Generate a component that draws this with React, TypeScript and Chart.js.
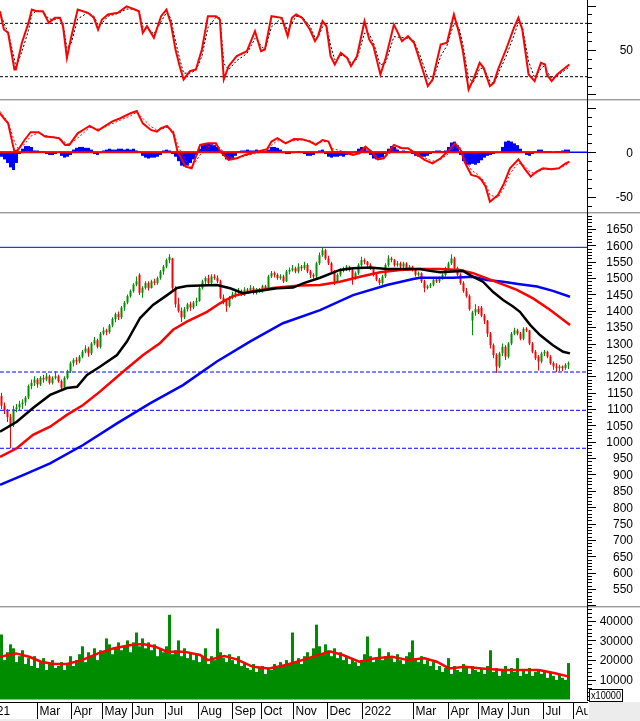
import React, { useEffect, useRef } from 'react';
import { Chart, registerables } from 'chart.js';

Chart.register(...registerables);

const FONT = '"Liberation Sans", Arial, Helvetica, sans-serif';
const X_MIN = -0.5;
const X_MAX = 195.5;
const GREEN = '#009000';
const VOL_GREEN = '#008c00';
const RED = '#ff0000';
const BLUE = '#0000ff';

// ---------- x-axis (month separators, in bar-slot units) ----------
const monthPos = [-6.7, 11.9, 23.2, 33.5, 43.6, 54.5, 65.6, 76.7, 86.5, 97.3, 108.5, 120.1, 137.1, 148.9, 158.9, 168.9, 180.4, 190.6];
const monthLabels = ['2021', 'Mar', 'Apr', 'May', 'Jun', 'Jul', 'Aug', 'Sep', 'Oct', 'Nov', 'Dec', '2022', 'Mar', 'Apr', 'May', 'Jun', 'Jul', 'Aug'];

// ---------- price candles ----------
const open = [
  1140, 1110, 1095, 1075, 1050, 1100, 1105, 1115, 1120, 1135,
  1170, 1180, 1190, 1175, 1195, 1190, 1200, 1180, 1195, 1200,
  1185, 1165, 1195, 1215, 1240, 1250, 1245, 1260, 1275, 1285,
  1270, 1300, 1310, 1290, 1330, 1340, 1335, 1355, 1375, 1390,
  1380, 1410, 1425, 1445, 1460, 1480, 1510, 1455, 1470, 1485,
  1470, 1490, 1485, 1500, 1520, 1535, 1555, 1560, 1470, 1420,
  1400, 1380, 1405, 1420, 1410, 1425, 1430, 1470, 1490, 1500,
  1485, 1505, 1500, 1490, 1440, 1430, 1415, 1440, 1450, 1455,
  1460, 1450, 1465, 1460, 1470, 1455, 1465, 1460, 1475, 1470,
  1505, 1515, 1510, 1500, 1505, 1490, 1520, 1525, 1530, 1520,
  1535, 1530, 1540, 1520, 1510, 1505, 1545, 1570, 1585, 1560,
  1545, 1520, 1490, 1510, 1525, 1530, 1535, 1525, 1500, 1515,
  1540, 1555, 1550, 1540, 1530, 1510, 1495, 1485, 1505, 1540,
  1560, 1555, 1540, 1545, 1535, 1545, 1530, 1535, 1525, 1510,
  1515, 1490, 1470, 1475, 1480, 1495, 1490, 1500, 1510, 1530,
  1545, 1560, 1530, 1510, 1485, 1460, 1445, 1370, 1395, 1405,
  1410, 1385, 1370, 1330, 1295, 1265, 1230, 1270, 1290, 1260,
  1300, 1330, 1340, 1330, 1315, 1345, 1340, 1300, 1275, 1260,
  1245, 1270, 1275, 1260, 1240, 1230, 1225, 1230, 1225, 1235,
];
const high = [
  1150, 1120, 1100, 1085, 1110, 1115, 1125, 1130, 1140, 1175,
  1190, 1200, 1195, 1200, 1205, 1210, 1205, 1200, 1215, 1205,
  1190, 1200, 1220, 1245, 1255, 1258, 1265, 1280, 1295, 1290,
  1305, 1320, 1315, 1335, 1350, 1345, 1360, 1380, 1395, 1398,
  1415, 1430, 1450, 1465, 1485, 1505, 1515, 1475, 1490, 1490,
  1495, 1498, 1505, 1525, 1540, 1560, 1573, 1562, 1475, 1440,
  1410, 1412, 1425, 1428, 1430, 1440, 1475, 1495, 1505, 1510,
  1512, 1512, 1508, 1495, 1450, 1435, 1445, 1458, 1462, 1470,
  1465, 1472, 1470, 1478, 1475, 1470, 1470, 1480, 1480, 1510,
  1522, 1520, 1515, 1512, 1510, 1525, 1532, 1540, 1535, 1545,
  1540, 1550, 1545, 1525, 1515, 1550, 1578, 1594, 1590, 1568,
  1550, 1525, 1515, 1530, 1535, 1540, 1538, 1528, 1520, 1545,
  1565, 1560, 1552, 1545, 1532, 1515, 1500, 1510, 1545, 1570,
  1565, 1558, 1552, 1550, 1550, 1548, 1540, 1538, 1528, 1520,
  1518, 1495, 1480, 1485, 1500, 1498, 1505, 1515, 1535, 1550,
  1573, 1565, 1535, 1515, 1490, 1470, 1450, 1400, 1420, 1415,
  1415, 1390, 1372, 1335, 1300, 1270, 1275, 1300, 1295, 1305,
  1335, 1348, 1345, 1335, 1350, 1350, 1342, 1305, 1280, 1265,
  1275, 1280, 1278, 1265, 1245, 1240, 1235, 1233, 1240, 1245,
];
const low = [
  1100, 1085, 1060, 980, 1045, 1090, 1095, 1100, 1110, 1130,
  1160, 1170, 1165, 1170, 1180, 1185, 1175, 1175, 1190, 1180,
  1160, 1160, 1190, 1210, 1230, 1235, 1240, 1255, 1270, 1260,
  1265, 1295, 1285, 1285, 1325, 1325, 1330, 1350, 1365, 1372,
  1375, 1400, 1420, 1440, 1455, 1475, 1448, 1440, 1465, 1462,
  1468, 1478, 1480, 1495, 1510, 1530, 1545, 1460, 1410, 1395,
  1366, 1375, 1398, 1400, 1405, 1415, 1428, 1465, 1480, 1480,
  1480, 1495, 1485, 1435, 1420, 1397, 1410, 1435, 1440, 1448,
  1445, 1445, 1452, 1455, 1450, 1450, 1455, 1455, 1462, 1468,
  1500, 1502, 1495, 1495, 1485, 1488, 1512, 1520, 1515, 1515,
  1522, 1525, 1515, 1500, 1498, 1500, 1540, 1565, 1555, 1540,
  1515, 1479, 1485, 1505, 1518, 1522, 1520, 1480, 1495, 1510,
  1535, 1542, 1535, 1525, 1505, 1490, 1478, 1480, 1500, 1535,
  1548, 1535, 1535, 1530, 1530, 1525, 1525, 1520, 1505, 1505,
  1485, 1457, 1465, 1470, 1475, 1485, 1485, 1495, 1505, 1525,
  1540, 1525, 1505, 1480, 1455, 1440, 1400, 1325, 1385, 1390,
  1380, 1360, 1320, 1285, 1255, 1210, 1225, 1262, 1250, 1255,
  1295, 1325, 1325, 1310, 1310, 1335, 1295, 1270, 1250, 1218,
  1240, 1262, 1255, 1235, 1220, 1212, 1215, 1215, 1220, 1222,
];
const close = [
  1110, 1095, 1075, 1050, 1100, 1105, 1115, 1120, 1135, 1170,
  1180, 1190, 1175, 1195, 1190, 1200, 1180, 1195, 1200, 1185,
  1165, 1195, 1215, 1240, 1250, 1245, 1260, 1275, 1285, 1270,
  1300, 1310, 1290, 1330, 1340, 1335, 1355, 1375, 1390, 1380,
  1410, 1425, 1445, 1460, 1480, 1490, 1455, 1470, 1485, 1470,
  1490, 1485, 1500, 1520, 1535, 1555, 1565, 1470, 1420, 1400,
  1380, 1405, 1420, 1410, 1425, 1430, 1470, 1490, 1500, 1485,
  1505, 1500, 1490, 1440, 1430, 1415, 1440, 1450, 1455, 1460,
  1450, 1465, 1460, 1470, 1455, 1465, 1460, 1475, 1470, 1505,
  1515, 1510, 1500, 1505, 1490, 1520, 1525, 1530, 1520, 1535,
  1530, 1540, 1520, 1510, 1505, 1545, 1570, 1585, 1560, 1545,
  1520, 1490, 1510, 1525, 1530, 1535, 1525, 1500, 1515, 1540,
  1555, 1550, 1540, 1530, 1510, 1495, 1485, 1505, 1540, 1560,
  1555, 1540, 1545, 1535, 1545, 1530, 1535, 1525, 1510, 1515,
  1490, 1470, 1475, 1480, 1495, 1490, 1500, 1510, 1530, 1545,
  1560, 1530, 1510, 1485, 1460, 1445, 1405, 1395, 1405, 1395,
  1385, 1370, 1330, 1295, 1265, 1230, 1270, 1290, 1260, 1300,
  1330, 1340, 1330, 1315, 1345, 1340, 1300, 1275, 1255, 1245,
  1270, 1275, 1260, 1240, 1230, 1225, 1230, 1225, 1235, 1240,
];

// moving averages (slot position, value)
const ma20T = [-0.5, 5.1, 10.5, 16.2, 21.8, 25.2, 28.5, 32.8, 38.5, 41.8, 46.2, 50.5, 55.2, 58.5, 61.8, 66.2, 71.8, 76.2, 80.5, 86.2, 91.8, 97.2, 100.5, 106.2, 112.8, 117.2, 122.8, 128.5, 135.2, 139.5, 142.8, 146.2, 150.5, 153.8, 157.2, 160.5, 163.8, 167.2, 170.5, 172.8, 176.2, 179.5, 183.8, 187.2, 189.5];
const ma20 = [1031, 1061, 1103, 1143, 1164, 1168, 1204, 1229, 1265, 1306, 1378, 1418, 1448, 1470, 1476, 1477, 1479, 1469, 1454, 1461, 1469, 1471, 1484, 1501, 1525, 1530, 1532, 1528, 1528, 1528, 1522, 1518, 1520, 1522, 1504, 1489, 1458, 1433, 1413, 1397, 1357, 1326, 1295, 1275, 1270];
const ma50T = [-0.5, 5.1, 10.5, 16.2, 21.8, 27.2, 32.8, 40.5, 47.2, 52.8, 57.2, 61.8, 68.5, 72.8, 77.2, 83.8, 90.5, 99.5, 106.2, 112.8, 119.5, 126.2, 132.8, 139.5, 146.2, 152.8, 157.2, 161.8, 166.2, 171.8, 177.2, 182.8, 189.5];
const ma50 = [954, 980, 1021, 1046, 1082, 1112, 1153, 1214, 1265, 1301, 1342, 1367, 1397, 1423, 1445, 1460, 1470, 1477, 1479, 1489, 1504, 1518, 1525, 1528, 1528, 1525, 1515, 1499, 1484, 1464, 1438, 1403, 1357];
const ma200T = [-0.5, 7.2, 16.2, 27.2, 38.5, 49.5, 60.5, 71.8, 82.8, 93.8, 106.2, 117.2, 128.5, 137.2, 139.5, 150.5, 157.2, 161.8, 167.2, 172.8, 178.5, 183.8, 189.5];
const ma200 = [868, 898, 934, 990, 1056, 1117, 1173, 1245, 1306, 1362, 1402, 1448, 1479, 1497, 1501, 1501, 1504, 1494, 1489, 1481, 1474, 1461, 1443];

const resistance = 1594;
const supports = [1213, 1096, 980];
const priceLabels = [550, 600, 650, 700, 750, 800, 850, 900, 950, 1000, 1050, 1100, 1150, 1200, 1250, 1300, 1350, 1400, 1450, 1500, 1550, 1600, 1650];

// ---------- oscillator (top panel) ----------
const rsiT = [
  -0.5, 0.8, 2.2, 4.3, 4.8, 6.8, 9, 10.1, 11.7, 13.8,
  15.8, 17.8, 19.5, 20.5, 21.8, 23.3, 25.4, 28.8, 30.8, 32.2,
  33.5, 35.5, 38.8, 41.7, 44.4, 45.8, 47.1, 48.5, 50.8, 53.2,
  55, 56.4, 58, 59.4, 60.7, 62.8, 64.8, 66.8, 68.8, 71.5,
  72.8, 74.1, 75.7, 78.4, 81.8, 84.5, 86.5, 87.8, 90, 93.4,
  95.4, 96.8, 98.2, 100.2, 102.8, 104.5, 105.5, 107, 108.3, 109.7,
  111.1, 113.1, 115.2, 116.5, 118.5, 121, 122.6, 124, 126.3, 128.1,
  130.8, 133.5, 135.5, 137.5, 139.5, 142.1, 143.7, 146.4, 148.5, 150.8,
  152.5, 153.8, 155.7, 157.3, 159.4, 160.7, 162.8, 164.1, 165.5, 168.2,
  170.8, 172.3, 173.6, 175.7, 177.7, 179.8, 181.2, 181.8, 183.4, 185.2,
  187.2, 189.3,
];
const rsiVal = [
  93.6, 73, 69.3, 28.1, 28.1, 58.1, 80.5, 95.5, 93.6, 93.6,
  80.5, 86.2, 86.2, 76.8, 41.2, 65.5, 95.5, 91.8, 86.2, 73,
  84.3, 89.9, 91.8, 99, 95.5, 93.6, 69.3, 76.8, 63.7, 88,
  95.5, 80.5, 50.6, 31.8, 16.9, 26.2, 28.1, 50.6, 88, 88,
  84.3, 16.9, 31.8, 43.1, 48.7, 71.2, 48.7, 50.6, 88, 86.2,
  65.5, 86.2, 89.9, 86.2, 73, 59.9, 65.5, 82.4, 76.8, 43.1,
  33.7, 46.8, 41.2, 31.8, 43.1, 82.4, 61.8, 54.3, 22.5, 41.2,
  78.6, 59.9, 65.5, 58.1, 37.5, 9.4, 16.9, 56.2, 58.1, 89.9,
  69.3, 48.7, 5.6, 16.9, 35.6, 30, 9.4, 13.1, 28.1, 50.6,
  74.9, 86.2, 73, 22.5, 15, 35.6, 33.7, 22.5, 15, 22.5,
  28.1, 33.7,
];
const rsiSig = [
  92, 80, 70, 40, 30, 48, 72, 90, 94, 93,
  85, 84, 86, 80, 52, 58, 85, 92, 88, 78,
  80, 88, 91, 96, 96, 94, 76, 75, 68, 82,
  92, 86, 60, 40, 24, 24, 27, 43, 75, 87,
  86, 35, 28, 38, 46, 63, 55, 50, 76, 86,
  72, 80, 88, 87, 77, 64, 64, 76, 78, 55,
  39, 44, 42, 35, 40, 69, 68, 58, 33, 36,
  65, 64, 63, 60, 44, 19, 15, 43, 55, 80,
  75, 56, 18, 14, 29, 30, 15, 12, 23, 43,
  66, 81, 76, 37, 19, 29, 33, 26, 18, 21,
  26, 31,
];
const rsiLevels = [80, 20];
const rsiLabels = [50];

// ---------- MACD panel ----------
const macdT = [
  -0.5, 0.8, 2.2, 4.3, 5.5, 7.7, 9.7, 12.4, 14.5, 17.2,
  19.2, 21.2, 22.6, 25.4, 28.1, 29.4, 32.2, 34.2, 36.8, 39.6,
  43, 45.1, 47.1, 49.8, 51.8, 53.2, 55.2, 57.3, 58.7, 61.4,
  63.4, 66.2, 68.8, 71.5, 73, 75.7, 78.4, 81.2, 85.2, 88.5,
  90, 92, 94.7, 97.5, 100.2, 102.8, 104.8, 107, 109, 110.4,
  113.8, 117.2, 119.2, 121.3, 123.3, 125.4, 127.4, 130.8, 133.5, 135.5,
  137.6, 141, 143.7, 146.4, 149.2, 151.2, 153, 154.6, 156.6, 158.7,
  160, 161.4, 162.8, 165.5, 167.5, 169.5, 172.3, 174.3, 176.4, 178.4,
  180.5, 183.2, 185.8, 187.8, 189.3,
];
const macdVal = [
  43.8, 38, 32.5, 0.7, 2.6, 13.8, 22.5, 22.5, 17.6, 16.9,
  15.8, 8.3, 8.3, 21.3, 27, 29.6, 24.4, 28.9, 34.5, 38.2,
  43.8, 46.4, 32.5, 25.1, 23.2, 27, 29.6, 21.3, 0.7, -16.1,
  -18, 8.3, 10.1, 10.1, 0.7, -8.6, -6.7, -3, 0.7, 3.4,
  12, 15.8, 10.1, 14.9, 14.6, 12, 8.3, 13.8, 12, 0.7,
  0, -3, -1.1, 6.4, 0.7, -7.9, -6.7, 8.3, 4.5, 4.5,
  -0.4, -8.6, -12.4, -6.7, 2.6, 10.1, 2.6, -12.4, -25.5, -27.3,
  -31.1, -38.6, -55.5, -48, -34.9, -18, -7.9, -18, -27.3, -21.7,
  -18, -19.1, -18, -13.1, -10.5,
];
const macdSig = [
  46, 40, 34, 12, 4, 9, 18, 22, 19, 17,
  16, 11, 9, 16, 24, 28, 26, 28, 32, 36,
  41, 45, 38, 29, 25, 26, 28, 24, 8, -10,
  -17, -3, 6, 9, 4, -5, -7, -4, -1, 2,
  8, 13, 11, 13, 14, 13, 10, 12, 12, 4,
  1, -2, -2, 3, 2, -5, -7, 3, 5, 4,
  1, -6, -10, -8, -1, 6, 5, -7, -20, -25,
  -29, -35, -48, -51, -40, -24, -12, -15, -23, -23,
  -19, -19, -18, -15, -12,
];
const macdHist = [
  -5, -8, -12, -17, -20, -12, -2,
  4, 7, 7, 6,
  2, 2, 1, 1,
  -2, -3, -3, -2,
  0,
  -4, -6, -5, -3,
  3, 5, 6, 6, 5, 5, 3,
  -2, -3, -1,
  2, 3, 4, 3, 3, 4, 4, 3, 4, 3, 4, 2, 1,
  -4, -6, -7, -6, -6, -5, -3,
  2, 3, 2,
  -2, -5, -10, -15, -16, -15, -12, -8, -3,
  4, 8, 10, 10, 9, 8, 6, 2,
  -4, -8, -8, -7, -4,
  1, 2, 2, 3, 2, 2, 3, 2, 1, 1,
  3, 6, 6, 5, 3,
  -1, -2, -2, -1,
  0, 1, 0,
  -2, -4, -4, -3, -1,
  2, 3,
  -2, -5, -6, -5, -5, -4, -5, -3, -2,
  -1, 1,
  4, 6, 5, 2,
  -3, -7, -8, -8, -6, -2,
  4, 7, 6, 3,
  1, 2, 1, 0,
  -2, -4, -5, -5, -5, -4, -2,
  1, 2, 2, 1, 2,
  6, 11, 12, 8,
  -3, -10, -14, -14, -13, -14, -12, -9, -6, -4,
  -3, -2, -1, 0,
  6, 12, 13, 12, 10, 8, 4,
  0, -3, -4,
  -2, 1, 3,
  3, 1, 1, 1, 0, 1, 1,
  2, 3, 3,
];
const macdLabels = [0, -50];

// ---------- volume (thousands, axis in x10000) ----------
const volume = [
  33, 20, 24, 28, 26, 19, 22, 25, 18, 21,
  17, 22, 16, 19, 21, 15, 18, 20, 16, 17,
  19, 15, 18, 22, 17, 20, 23, 27, 19, 24,
  22, 26, 20, 25, 24, 31, 28, 23, 26, 29,
  25, 27, 30, 24, 29, 34, 27, 31, 26, 29,
  25, 28, 22, 26, 24, 27, 43, 23, 25, 30,
  22, 26, 21, 24, 20, 23, 19, 22, 26, 18,
  22, 20, 36, 24, 21, 19, 23, 20, 18, 22,
  17, 19, 16, 15, 18, 14, 16, 17, 13, 16,
  15, 18, 16, 19, 17, 20, 18, 34, 19, 21,
  18, 22, 24, 21, 26, 38, 27, 23, 28, 25,
  22, 26, 21, 24, 20, 22, 18, 21, 19, 17,
  20, 23, 32, 22, 19, 21, 26, 20, 22, 24,
  21, 19, 23, 20, 18, 22, 24, 30, 21, 19,
  22, 18, 20, 17, 19, 15, 17, 14, 16, 21,
  13, 17, 15, 14, 18, 16, 13, 17, 15, 14,
  16, 13, 17, 25, 14, 16, 12, 15, 17, 13,
  16, 14, 21, 12, 15, 13, 16, 12, 14, 15,
  13, 15, 11, 14, 12, 10, 13, 11, 10, 18.5,
];
const volMaT = [-0.5, 4.8, 9.2, 13.2, 17.2, 21.8, 26.8, 32.2, 37.5, 43.2, 47.2, 51.2, 55.2, 60.8, 66.2, 68.8, 74.3, 78.4, 83.8, 89.2, 94.8, 100.2, 105.5, 109.7, 113.8, 119.2, 124.7, 130.2, 135.5, 141, 145.1, 149.2, 154.5, 160, 166.8, 173.5, 179.1, 184.5, 189.2];
const volMa = [21.7, 23.4, 21.7, 19.2, 18, 18, 20, 23.4, 26, 27.7, 28.2, 26.8, 24.3, 24.3, 22.6, 20, 22.1, 20.4, 16.6, 15.8, 17.5, 20, 22.6, 24.3, 22.6, 19.2, 20.9, 21.7, 20, 20.9, 19.2, 15.8, 16.6, 15.8, 15, 15, 15, 13.3, 11.6];
const volLabels = [10, 20, 30, 40];

// ---------- helpers ----------
const series = (ts: number[], vs: number[]) => ts.map((t, i) => ({ x: t, y: vs[i] }));
const hline = (v: number, to: number = X_MAX) => [{ x: X_MIN, y: v }, { x: to, y: v }];

const lineDs = (data: any[], color: string, width: number, order: number, dash: number[] = []) => ({
  type: 'line',
  data,
  borderColor: color,
  borderWidth: width,
  borderDash: dash,
  borderCapStyle: 'butt',
  pointRadius: 0,
  fill: false,
  tension: 0,
  order,
});

function baseOptions(yMin: number, yMax: number, bottom = 0): any {
  return {
    responsive: false,
    animation: false,
    devicePixelRatio: 1,
    events: [],
    layout: { padding: { left: 0, top: 0, right: 52, bottom } },
    plugins: { legend: { display: false }, tooltip: { enabled: false } },
    scales: {
      x: { type: 'linear', min: X_MIN, max: X_MAX, display: false, offset: false },
      y: { type: 'linear', min: yMin, max: yMax, display: false },
    },
  };
}

type AxisCfg = { minor: number; major: number; labels: number[]; text?: (v: number) => string };

function rightAxis(cfg: AxisCfg) {
  return {
    id: 'rightAxis',
    afterDraw(chart: any) {
      const { ctx, chartArea } = chart;
      const y = chart.scales.y;
      const x0 = chartArea.right;
      ctx.save();
      ctx.strokeStyle = '#000';
      ctx.lineWidth = 1;
      const k0 = Math.ceil(y.min / cfg.minor);
      const k1 = Math.floor(y.max / cfg.minor);
      for (let k = k0; k <= k1; k++) {
        const v = k * cfg.minor;
        const py = Math.round(y.getPixelForValue(v)) + 0.5;
        const len = v % cfg.major === 0 ? 8 : 4;
        ctx.beginPath();
        ctx.moveTo(x0, py);
        ctx.lineTo(x0 + len, py);
        ctx.stroke();
      }
      ctx.fillStyle = '#000';
      ctx.font = `12px ${FONT}`;
      ctx.textAlign = 'right';
      ctx.textBaseline = 'middle';
      for (const v of cfg.labels) {
        ctx.fillText(cfg.text ? cfg.text(v) : String(v), chart.width - 7, y.getPixelForValue(v) + 1);
      }
      ctx.restore();
    },
  };
}

const xRow = {
  id: 'xRow',
  afterDraw(chart: any) {
    const { ctx, chartArea } = chart;
    const xs = chart.scales.x;
    const top = chartArea.bottom + 2;
    const bottom = top + 17;
    const right = chartArea.right;
    ctx.save();
    ctx.fillStyle = '#ececec';
    ctx.fillRect(0, bottom, chart.width, chart.height - bottom);
    ctx.fillRect(right + 1, top, chart.width - right - 1, bottom - top);
    // x10000 box
    ctx.fillStyle = '#fff';
    ctx.fillRect(right + 1, top - 13, 33, 12);
    ctx.strokeStyle = '#000';
    ctx.lineWidth = 1;
    ctx.strokeRect(right + 1.5, top - 12.5, 33, 12);
    ctx.fillStyle = '#000';
    ctx.font = `10px ${FONT}`;
    ctx.textAlign = 'left';
    ctx.textBaseline = 'middle';
    ctx.fillText('x10000', right + 3, top - 6, 30);
    // label row
    ctx.beginPath();
    ctx.moveTo(0, top + 0.5);
    ctx.lineTo(right, top + 0.5);
    ctx.stroke();
    ctx.beginPath();
    ctx.rect(0, top, right, bottom - top);
    ctx.clip();
    ctx.font = `12px ${FONT}`;
    monthPos.forEach((t, k) => {
      const px = Math.round(xs.getPixelForValue(t)) + 0.5;
      ctx.beginPath();
      ctx.moveTo(px, top);
      ctx.lineTo(px, bottom);
      ctx.stroke();
      ctx.fillText(monthLabels[k], px + 2, (top + bottom) / 2 + 1);
    });
    ctx.restore();
  },
};

function rsiConfig(): any {
  return {
    type: 'line',
    data: {
      datasets: [
        ...rsiLevels.map((v) => lineDs(hline(v), '#000', 1, 20, [3, 2])),
        lineDs(series(rsiT, rsiSig), '#000', 1, 2, [2, 2]),
        lineDs(series(rsiT, rsiVal), RED, 2, 1),
      ],
    },
    options: baseOptions(-5.06, 106.2),
    plugins: [rightAxis({ minor: 10, major: 50, labels: rsiLabels })],
  };
}

function macdConfig(): any {
  return {
    type: 'line',
    data: {
      datasets: [
        lineDs(hline(0), BLUE, 1.5, 30),
        {
          type: 'bar',
          data: macdHist.map((v, i) => ({ x: i, y: v })),
          backgroundColor: BLUE,
          barThickness: 3,
          inflateAmount: 0,
          borderWidth: 0,
          order: 20,
        },
        lineDs(hline(0, macdT[macdT.length - 1]), RED, 2, 3),
        lineDs(series(macdT, macdSig), RED, 1, 2, [2, 2]),
        lineDs(series(macdT, macdVal), RED, 2, 1),
      ],
    },
    options: baseOptions(-67.1, 57.6),
    plugins: [rightAxis({ minor: 10, major: 50, labels: macdLabels })],
  };
}

function priceConfig(): any {
  const idx = close.map((_, i) => i);
  const colors = idx.map((i) => (close[i] >= open[i] ? GREEN : RED));
  const candleBase = {
    type: 'bar',
    grouped: false,
    barPercentage: 1,
    categoryPercentage: 1,
    inflateAmount: 0,
    borderWidth: 0,
    backgroundColor: colors,
  };
  return {
    type: 'line',
    data: {
      datasets: [
        lineDs(hline(resistance), BLUE, 1, 30),
        ...supports.map((v) => lineDs(hline(v), BLUE, 1, 30, [4, 2])),
        { ...candleBase, data: idx.map((i) => ({ x: i, y: [low[i], high[i]] })), maxBarThickness: 1, order: 11 },
        {
          ...candleBase,
          data: idx.map((i) => ({ x: i, y: [Math.min(open[i], close[i]), Math.max(open[i], close[i])] })),
          maxBarThickness: 2,
          order: 10,
        },
        lineDs(series(ma200T, ma200), BLUE, 2.5, 3),
        lineDs(series(ma50T, ma50), RED, 2.5, 2),
        lineDs(series(ma20T, ma20), '#000', 2.5, 1),
      ],
    },
    options: baseOptions(498.1, 1695.8),
    plugins: [rightAxis({ minor: 10, major: 50, labels: priceLabels })],
  };
}

function volumeConfig(): any {
  return {
    type: 'line',
    data: {
      datasets: [
        {
          type: 'bar',
          data: volume.map((v, i) => ({ x: i, y: v })),
          backgroundColor: VOL_GREEN,
          barThickness: 3,
          inflateAmount: 0,
          borderWidth: 0,
          order: 10,
        },
        lineDs(series(volMaT, volMa), RED, 2.5, 1),
      ],
    },
    options: baseOptions(-0.25, 46.45, 21),
    plugins: [rightAxis({ minor: 2, major: 10, labels: volLabels, text: (v) => String(v * 1000) }), xRow],
  };
}

const sepStyle = (top: number): React.CSSProperties => ({
  position: 'absolute',
  left: 0,
  top,
  width: 640,
  height: 2,
  background: 'linear-gradient(#9a9a9a 50%, #d6d6d6 50%)',
});

const canvasStyle = (top: number): React.CSSProperties => ({ position: 'absolute', left: 0, top, display: 'block' });

export default function App() {
  const c1 = useRef<HTMLCanvasElement>(null);
  const c2 = useRef<HTMLCanvasElement>(null);
  const c3 = useRef<HTMLCanvasElement>(null);
  const c4 = useRef<HTMLCanvasElement>(null);

  useEffect(() => {
    const charts = [
      new Chart(c1.current as HTMLCanvasElement, rsiConfig()),
      new Chart(c2.current as HTMLCanvasElement, macdConfig()),
      new Chart(c3.current as HTMLCanvasElement, priceConfig()),
      new Chart(c4.current as HTMLCanvasElement, volumeConfig()),
    ];
    return () => charts.forEach((c) => c.destroy());
  }, []);

  return (
    <div style={{ position: 'fixed', left: 0, top: 0, width: 640, height: 721, background: '#fff', overflow: 'hidden' }}>
      <canvas ref={c1} width={640} height={99} style={canvasStyle(0)} />
      <div style={sepStyle(99)} />
      <canvas ref={c2} width={640} height={111} style={canvasStyle(101)} />
      <div style={sepStyle(212)} />
      <canvas ref={c3} width={640} height={392} style={canvasStyle(214)} />
      <div style={sepStyle(606)} />
      <canvas ref={c4} width={640} height={113} style={canvasStyle(608)} />
      <div style={{ position: 'absolute', left: 587, top: 0, width: 1, height: 701, background: '#000' }} />
    </div>
  );
}
